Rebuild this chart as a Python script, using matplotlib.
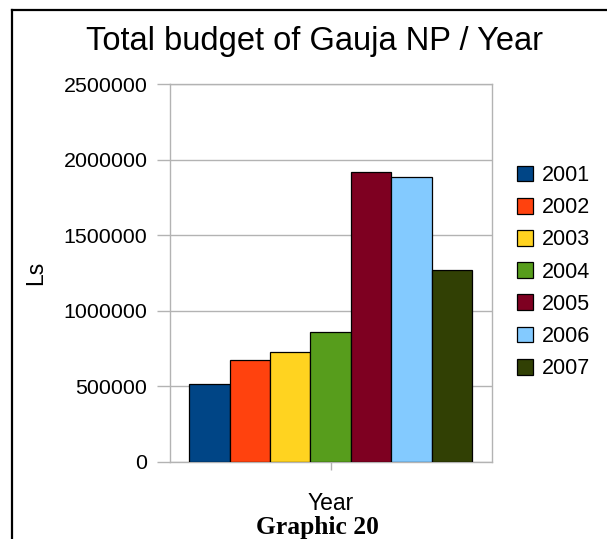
import matplotlib
matplotlib.use("Agg")
from matplotlib import pyplot as plt

years = ["2001", "2002", "2003", "2004", "2005", "2006", "2007"]
budget = [514000, 672000, 725000, 856000, 1920000, 1883000, 1266000]
colors = ["#004586", "#ff420e", "#ffd320", "#579d1c", "#7e0021", "#83caff", "#314004"]
yticks = [0, 500000, 1000000, 1500000, 2000000, 2500000]

plt.rcParams["font.family"] = ["Liberation Sans", "DejaVu Sans"]

fig = plt.figure(figsize=(6.07, 5.39), dpi=100)
ax = fig.add_axes([169.5 / 607, 77.3 / 539, 322.2 / 607, 377.7 / 539])

grey = "#b3b3b3"
for i in range(len(years)):
    ax.bar(i, budget[i], width=1.0, color=colors[i], edgecolor="black",
           linewidth=0.9, label=years[i], zorder=3)

ax.set_xlim(-0.985, 6.985)
ax.set_ylim(0, 2500000)
ax.set_yticks(yticks)
ax.set_yticklabels([str(v) for v in yticks])
ax.set_xticks([3])
ax.set_xticklabels([""])
ax.grid(axis="y", color=grey, linewidth=1.0, zorder=0)
for s in ax.spines.values():
    s.set_color(grey)
    s.set_linewidth(1.0)
ax.tick_params(axis="y", length=9.4, width=1.0, color=grey, pad=6.5, labelsize=15.4)
ax.tick_params(axis="x", length=6, width=1.0, color=grey)

ax.legend(loc="upper left", bbox_to_anchor=(517 / 607, 1 - 165 / 539),
          bbox_transform=fig.transFigure, frameon=False, fontsize=15.5,
          handlelength=0.75, handleheight=0.75, handletextpad=0.42,
          labelspacing=0.52, borderaxespad=0, borderpad=0)

fig.text(314 / 607, 1 - 50 / 539, "Total budget of Gauja NP / Year",
         ha="center", va="baseline", fontsize=23.5)
fig.text(36 / 607, 1 - 273 / 539, "Ls", rotation=90, ha="center",
         va="center", fontsize=16.5)
fig.text(331 / 607, 1 - 510 / 539, "Year", ha="center", va="baseline", fontsize=16.5)
fig.text(317 / 607, 1 - 534 / 539, "Graphic 20", ha="center", va="baseline",
         fontsize=18.4, fontweight="bold",
         family=["Liberation Serif", "DejaVu Serif"])

# frame lines along top and left edge
fig.add_artist(plt.Line2D([11.8 / 607, 11.8 / 607], [0, 1 - 10.3 / 539],
                          transform=fig.transFigure, color="black", linewidth=1.6,
                          solid_capstyle="projecting"))
fig.add_artist(plt.Line2D([11.8 / 607, 1], [1 - 10.3 / 539, 1 - 10.3 / 539],
                          transform=fig.transFigure, color="black", linewidth=1.6,
                          solid_capstyle="projecting"))

fig.savefig("out.png", dpi=100)
